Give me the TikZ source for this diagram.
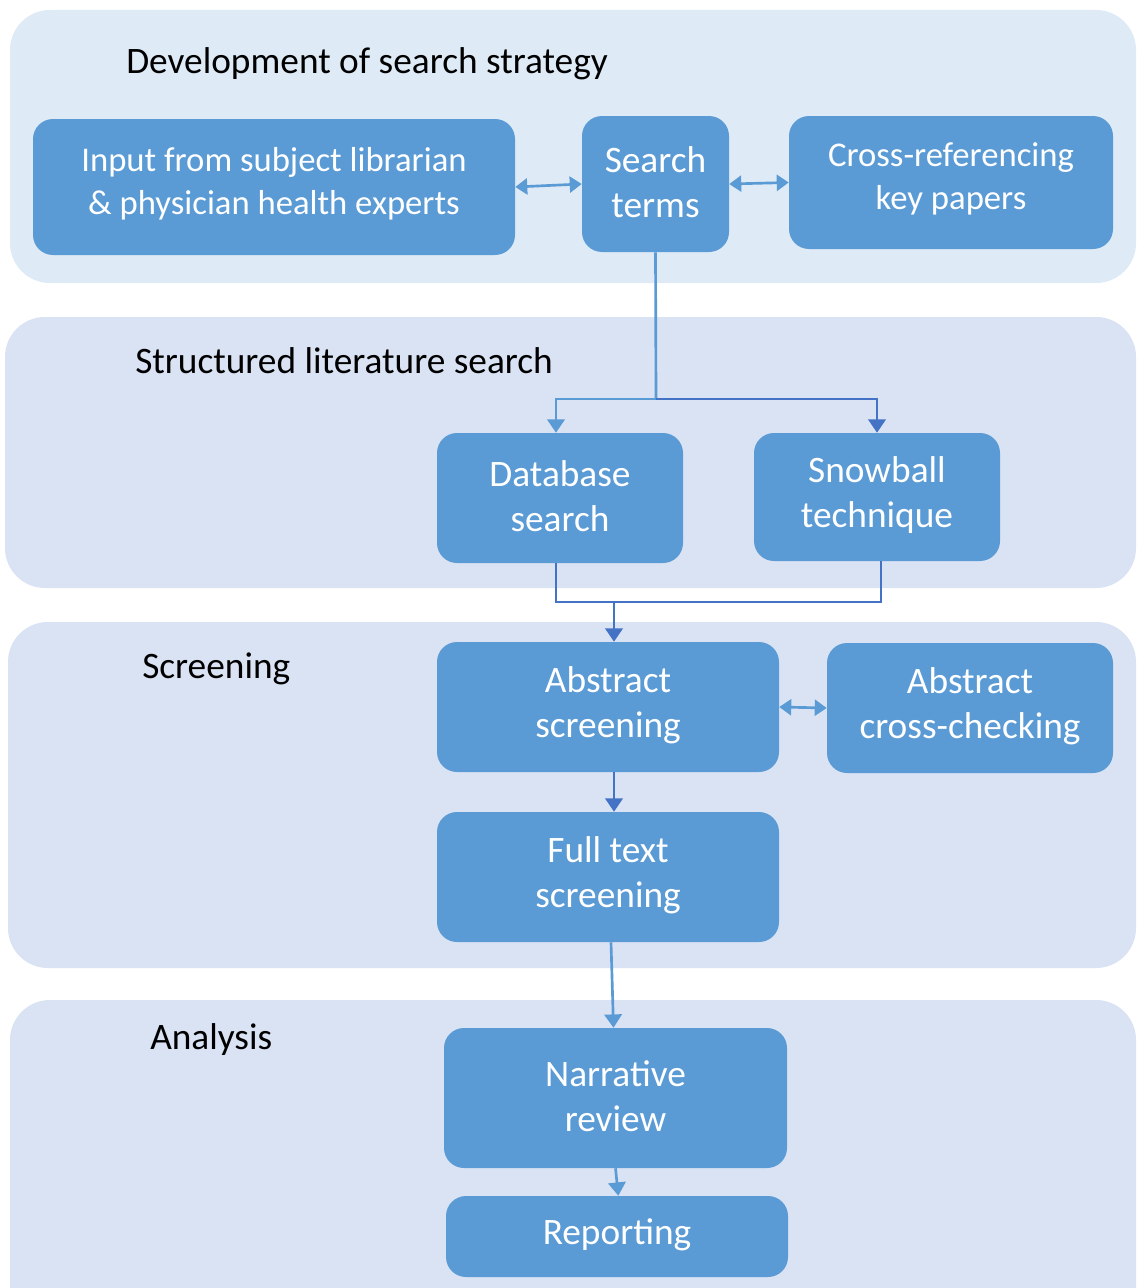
\documentclass[tikz,border=0pt]{standalone}
\usepackage{fontspec}
\setmainfont{Carlito}
\usetikzlibrary{arrows.meta,fit}
\definecolor{bandA}{HTML}{DEEBF7}
\definecolor{bandB}{HTML}{DAE3F3}
\definecolor{boxc}{HTML}{5B9BD5}
\definecolor{darkarr}{HTML}{4472C4}
\begin{document}
\begin{tikzpicture}[x=0.75pt,y=-0.75pt,
  band/.style={rounded corners=30pt, inner sep=0pt, draw=none},
  box/.style={fill=boxc, rounded corners=15pt, inner sep=0pt},
  btxt/.style={text=white, align=center, inner sep=0pt, yshift=1.5pt,
    font=\fontsize{28}{34}\selectfont},
  bsmall/.style={text=white, align=center, inner sep=0pt, yshift=2.5pt,
    font=\fontsize{26}{32}\selectfont},
  lbl/.style={anchor=west, font=\fontsize{28}{34}\selectfont, text=black, inner sep=0pt},
  plain/.style={draw=boxc, line width=2pt},
  darkplain/.style={draw=darkarr, line width=2pt},
  conn/.style={draw=boxc, line width=2pt, -{Triangle[length=10pt,width=13pt,fill=boxc]}},
  darkconn/.style={draw=darkarr, line width=2pt, -{Triangle[length=10pt,width=13pt,fill=darkarr]}},
  dbl/.style={draw=boxc, line width=2pt, {Triangle[length=9pt,width=12pt,fill=boxc]}-{Triangle[length=9pt,width=12pt,fill=boxc]}}
]
\useasboundingbox[fill=white] (0,0) rectangle (1136,1288);

% bands
\node[band, fill=bandA, fit={(10,10) (1136,283)}] (bandone) {};
\node[band, fill=bandB, fit={(5,317) (1136,588)}] (bandtwo) {};
\node[band, fill=bandB, fit={(8,622) (1136,968)}] (bandthree) {};
\node[band, fill=bandB, fit={(10,1000) (1136,1330)}] (bandfour) {};

% section labels
\node[lbl] (lone) at (126,64) {Development of search strategy};
\node[lbl] (ltwo) at (135,361) {Structured literature search};
\node[lbl] (lthree) at (142,669) {Screening};
\node[lbl] (lfour) at (150,1040) {Analysis};

% boxes
\node[box, fit={(33,119) (515,255)}, label={[bsmall]center:{Input from subject librarian\\\& physician health experts}}] (input) {};
\node[box, fit={(582,116) (729,252)}, label={[btxt]center:{Search\\terms}}] (search) {};
\node[box, fit={(789,116) (1113,249)}, label={[bsmall]center:{Cross-referencing\\key papers}}] (cross) {};
\node[box, fit={(437,433) (683,563)}, label={[btxt]center:{Database\\search}}] (db) {};
\node[box, fit={(754,433) (1000,561)}, label={[btxt]center:{Snowball\\technique}}] (snow) {};
\node[box, fit={(437,642) (779,772)}, label={[btxt]center:{Abstract\\screening}}] (abs) {};
\node[box, fit={(827,643) (1113,773)}, label={[btxt]center:{Abstract\\cross-checking}}] (acc) {};
\node[box, fit={(437,812) (779,942)}, label={[btxt]center:{Full text\\screening}}] (full) {};
\node[box, fit={(444,1028) (787,1168)}, label={[btxt]center:{Narrative\\review}}] (narr) {};
\node[box, fit={(446,1196) (788,1277)}, label={[btxt]center:{Reporting}}] (rep) {};

% connectors
\draw[dbl] (input.east) -- (search.west);
\draw[dbl] (search.east) -- (cross.west);

\coordinate (split) at (656,399);
\draw[plain] (search.south) -- (split);
\draw[conn] (split) -| ([xshift=-3pt]db.north);
\draw[darkconn] (split) -| (snow.north);

\coordinate (merge) at (614,602);
\draw[darkplain] ([xshift=-3pt]db.south) |- (merge);
\draw[darkplain] ([xshift=3pt]snow.south) |- (merge);
\draw[darkconn] (merge) -- (merge |- abs.north);

\draw[dbl] (abs.east) -- (acc.west);
\draw[darkconn] ([xshift=4.5pt]abs.south) -- ([xshift=4.5pt]full.north);
\draw[conn] ([xshift=2.25pt]full.south) -- ([xshift=-1.5pt]narr.north);
\draw[conn] (narr.south) -- ([xshift=1pt]rep.north);
\end{tikzpicture}
\end{document}
